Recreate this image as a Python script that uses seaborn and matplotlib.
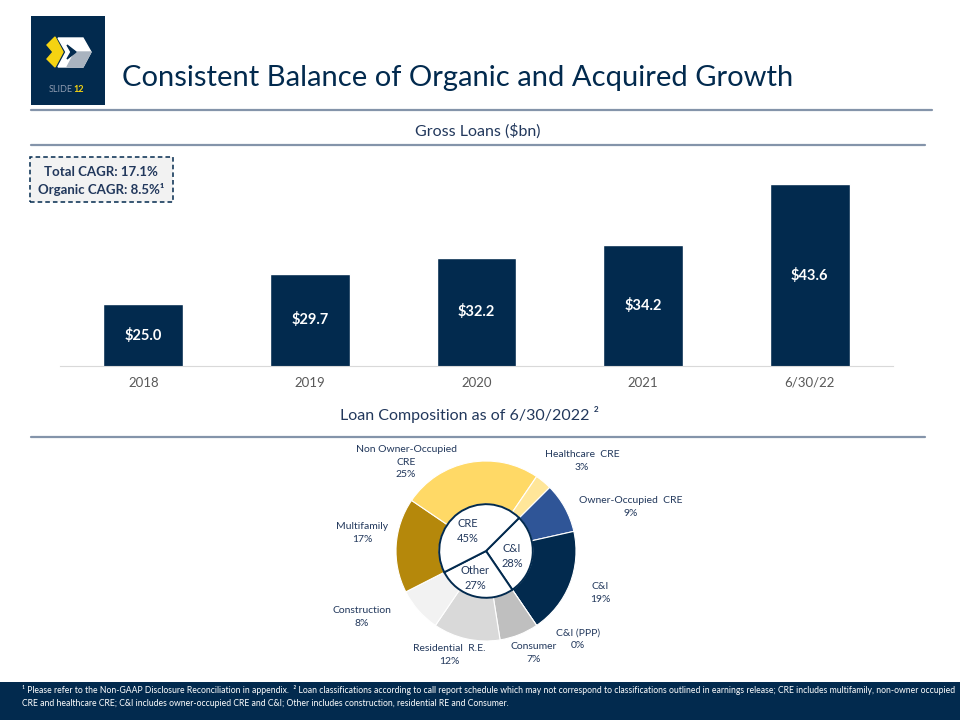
import numpy as np
import pandas as pd
import matplotlib
matplotlib.use("Agg")
import matplotlib.pyplot as plt
from matplotlib.patches import Rectangle, Polygon
import seaborn as sns

# data
periods = ["2018", "2019", "2020", "2021", "6/30/22"]
gross_loans = [25.0, 29.7, 32.2, 34.2, 43.6]

segments = ["Owner-Occupied  CRE", "C&I", "C&I (PPP)", "Consumer", "Residential  R.E.",
            "Construction", "Multifamily", "Non Owner-Occupied\nCRE", "Healthcare  CRE"]
segment_pct = [9, 19, 0, 7, 12, 8, 17, 25, 3]

groups = ["C&I", "Other", "CRE"]
group_pct = [28, 27, 45]

# style
sns.set_style("white")
plt.rcParams['font.family'] = ['Lato', 'DejaVu Sans']

NAVY = "#022A4E"
TXT = "#22385C"
RULE = "#8494AA"
W, H = 960, 720

fig = plt.figure(figsize=(9.6, 7.2), dpi=100)


def fx(x):
    return x / W


def fy(y):
    return 1 - y / H


def axes_px(x0, y0, x1, y1):
    return fig.add_axes([fx(x0), fy(y1), (x1 - x0) / W, (y1 - y0) / H])


def hline(y, x0, x1, color=RULE, lw=1.6):
    fig.add_artist(plt.Line2D([fx(x0), fx(x1)], [fy(y), fy(y)], color=color, lw=lw,
                              transform=fig.transFigure))


# logo
lg = axes_px(31, 16, 105, 105)
lg.set_xlim(31, 105)
lg.set_ylim(105, 16)
lg.set_facecolor(NAVY)
lg.set_xticks([])
lg.set_yticks([])
for s in lg.spines.values():
    s.set_visible(False)
lg.add_patch(Polygon([(47, 45), (55, 37), (63, 52), (55, 67), (47, 59), (53, 52)], color="#F5D312"))
lg.add_patch(Polygon([(58, 38), (83, 38), (91, 52), (83, 67), (58, 67), (66, 52)], color="white"))
lg.add_patch(Polygon([(75, 52), (91, 52), (83, 67), (67, 67)], color="#A9B3BF"))
lg.add_patch(Polygon([(67, 45), (76, 52), (67, 59), (71, 52)], color=NAVY))
lg.text(61, 90, "SLIDE", color="#8E9BB0", fontsize=6.5, ha="center", va="center")
lg.text(79, 90, "12", color="#F5D312", fontsize=6.5, fontweight="bold", ha="center", va="center")

# title and rules
fig.text(fx(122), fy(78), "Consistent Balance of Organic and Acquired Growth",
         fontsize=21, color=NAVY, ha="left", va="center")
hline(110, 31, 932)
fig.text(fx(478), fy(131), "Gross Loans ($bn)", fontsize=11.5, color=TXT, ha="center", va="center")
hline(145, 31, 925)

# bar chart
base = 15.4
ax = axes_px(60, 150, 893, 366)
df = pd.DataFrame({"period": periods, "loans": gross_loans})
sns.barplot(data=df, x="period", y="loans", color=NAVY, saturation=1, width=0.48, ax=ax)
ax.set_ylim(base, base + 216 / 6.45)
ax.set_xlim(-0.5, len(periods) - 0.5)
ax.set_xlabel("")
ax.set_ylabel("")
ax.set_yticks([])
for side in ["top", "left", "right"]:
    ax.spines[side].set_visible(False)
ax.spines["bottom"].set_color("#D9D9D9")
ax.tick_params(axis="x", which="major", length=0, pad=12, labelsize=9.5, labelcolor="#595959")
for lab in ax.get_xticklabels():
    lab.set_verticalalignment("center")
ax.set_xticks(np.arange(-0.5, len(periods)), minor=True)
ax.tick_params(axis="x", which="minor", length=5, color="#D9D9D9")
for i, v in enumerate(gross_loans):
    ax.text(i, (base + v) / 2, f"${v:.1f}", color="white", fontweight="bold",
            fontsize=10.5, ha="center", va="center")

# CAGR box
fig.add_artist(Rectangle((fx(30), fy(202)), 143 / W, 45 / H, transform=fig.transFigure,
                         facecolor="#F2F2F2", edgecolor=NAVY, lw=1.1, linestyle=(0, (3, 2))))
fig.text(fx(101), fy(172), "Total CAGR: 17.1%", fontsize=9.5, fontweight="bold",
         color=TXT, ha="center", va="center")
fig.text(fx(101), fy(189), "Organic CAGR: 8.5%\u00b9", fontsize=9.5, fontweight="bold",
         color=TXT, ha="center", va="center")

# loan composition
fig.text(fx(470), fy(415), "Loan Composition as of 6/30/2022 \u00b2", fontsize=11.5,
         color=TXT, ha="center", va="center")
hline(437, 31, 925)

seg_colors = ["#2F5597", NAVY, NAVY, "#BFBFBF", "#D9D9D9", "#F2F2F2",
              "#B5880B", "#FFD966", "#FFE699"]
pa = axes_px(486 - 180, 551 - 180, 486 + 180, 551 + 180)
pa.pie(segment_pct, colors=seg_colors, startangle=45, counterclock=False, radius=1,
       wedgeprops=dict(width=0.48, edgecolor="white", linewidth=0.8))
pa.pie(group_pct, colors=["white"] * 3, startangle=45, counterclock=False, radius=0.52,
       wedgeprops=dict(edgecolor=NAVY, linewidth=1.4))
pa.set_xlim(-2, 2)
pa.set_ylim(-2, 2)
pa.set_aspect("equal")
pa.axis("off")

# label positions in pixels (centre of the text block)
seg_label_pos = [(631, 507), (600, 593), (578, 639), (534, 653), (449, 655),
                 (362, 617), (362, 533), (406, 462), (582, 461)]
for name, pct, (x, y) in zip(segments, segment_pct, seg_label_pos):
    fig.text(fx(x), fy(y), f"{name}\n{pct}%", fontsize=7.5, color=TXT,
             ha="center", va="center", linespacing=1.45)

group_label_pos = [(512, 556), (475, 578), (468, 531)]
for name, pct, (x, y) in zip(groups, group_pct, group_label_pos):
    fig.text(fx(x), fy(y), f"{name}\n{pct}%", fontsize=8, color=TXT,
             ha="center", va="center", linespacing=1.4)

# footer
fig.add_artist(Rectangle((0, 0), 1, 38 / H, transform=fig.transFigure, facecolor=NAVY,
                         edgecolor="none"))
fig.text(fx(22), fy(690), "\u00b9 Please refer to the Non-GAAP Disclosure Reconciliation in appendix.  "
         "\u00b2 Loan classifications according to call report schedule which may not correspond to "
         "classifications outlined in earnings release; CRE includes multifamily, non-owner occupied",
         fontsize=6.2, color="white", ha="left", va="center")
fig.text(fx(22), fy(703), "CRE and healthcare CRE; C&I includes owner-occupied CRE and C&I; "
         "Other includes construction, residential RE and Consumer.",
         fontsize=6.2, color="white", ha="left", va="center")

plt.savefig("out.png", dpi=100)
